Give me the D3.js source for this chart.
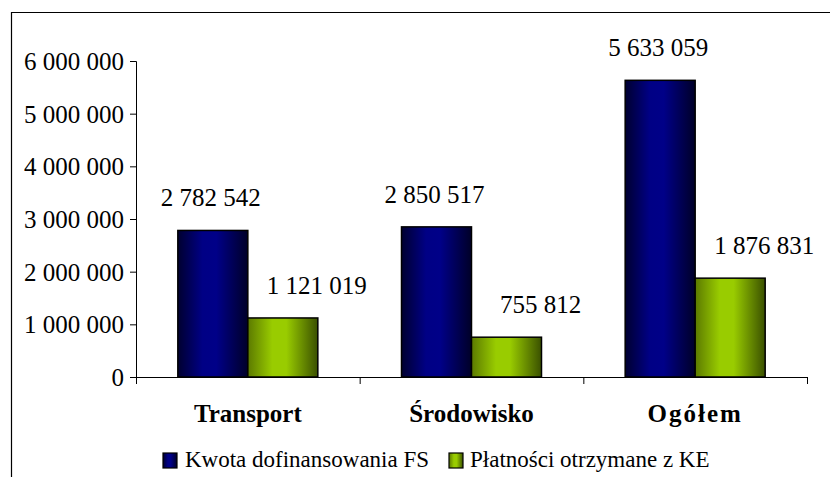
<!DOCTYPE html>
<html>
<head>
<meta charset="utf-8">
<script src="https://cdn.jsdelivr.net/npm/d3@7"></script>
<style>
  html, body { margin: 0; padding: 0; background: #fff; font-family: 'Times New Roman'; }
  svg { display: block; font-family: 'Times New Roman'; }
</style>
</head>
<body>
<svg id="chart" width="830" height="477" font-family="Times New Roman"></svg>
<script>
const categories = ["Transport", "Środowisko", "Ogółem"];
const seriesNames = ["Kwota dofinansowania FS", "Płatności otrzymane z KE"];
const kwotaFS = [2782542, 2850517, 5633059];
const platnosciKE = [1121019, 755812, 1876831];
const yTicks = [0, 1000000, 2000000, 3000000, 4000000, 5000000, 6000000];

const FONT = "'Times New Roman'";
const svg = d3.select("#chart");
const W = 830, H = 477;
const plotBottom = 377;

svg.append("path")
  .attr("d", `M11.5,${H} L11.5,12.5 L${W},12.5`)
  .attr("fill", "none").attr("stroke", "#000").attr("stroke-width", 1.2);

const defs = svg.append("defs");
function grad(id, stops) {
  const g = defs.append("linearGradient").attr("id", id)
    .attr("x1", "0%").attr("x2", "100%").attr("y1", "0%").attr("y2", "0%");
  stops.forEach(s => g.append("stop").attr("offset", s[0]).attr("stop-color", s[1]));
}
grad("gBlue", [["0%", "#000030"], ["35%", "#000085"], ["55%", "#000088"], ["100%", "#000028"]]);
grad("gGreen", [["0%", "#5c7a00"], ["35%", "#99cc00"], ["55%", "#99cc00"], ["100%", "#3a5000"]]);
const fills = ["url(#gBlue)", "url(#gGreen)"];

const x = d3.scaleBand().domain(categories).range([136, 807]).paddingInner(0).paddingOuter(0);
const y = d3.scaleLinear().domain([0, 6000000]).range([plotBottom, 61]);
const fmt = v => d3.format(",")(v).replace(/,/g, " ");

const yAxis = d3.axisLeft(y).tickValues(yTicks).tickFormat(fmt).tickSizeOuter(0).tickSize(6).tickPadding(6);
const gy = svg.append("g").attr("transform", "translate(136,0)").call(yAxis)
  .attr("font-family", null).attr("font-size", null);
gy.select(".domain").attr("stroke", "#000");
gy.selectAll(".tick line").attr("stroke", "#000");
gy.selectAll(".tick text").style("font-family", FONT).style("font-size", "25px").attr("fill", "#000").attr("dy", "0.34em");

const xAxis = d3.axisBottom(x).tickSize(0).tickFormat("");
const gx = svg.append("g").attr("transform", `translate(0,${plotBottom})`).call(xAxis);
gx.select(".domain").attr("stroke", "#000");
gx.selectAll(".tick").remove();
const bounds = categories.map(c => x(c)).concat([x.range()[1]]);
svg.append("g").selectAll("line").data(bounds).join("line")
  .attr("x1", d => d + 0.5).attr("x2", d => d + 0.5)
  .attr("y1", plotBottom).attr("y2", plotBottom + 7)
  .attr("stroke", "#000");

categories.forEach(c => {
  svg.append("text")
    .attr("x", x(c) + x.bandwidth() / 2).attr("y", 422)
    .attr("text-anchor", "middle")
    .style("font-family", FONT).style("font-size", "25px").style("font-weight", "bold")
    .style("letter-spacing", c === "Ogółem" ? "2px" : "0px")
    .text(c);
});

const barW = 70;
const series = [kwotaFS, platnosciKE];
const xs = d3.scaleBand().domain([0, 1]).range([0, barW * 2]);
const labelOffsets = [-2, 34];
series.forEach((vals, si) => {
  categories.forEach((c, i) => {
    const bx = x(c) + x.bandwidth() / 2 - barW + xs(si);
    svg.append("rect")
      .attr("x", bx).attr("y", y(vals[i]))
      .attr("width", barW).attr("height", plotBottom - y(vals[i]))
      .attr("fill", fills[si])
      .attr("stroke", "#000").attr("stroke-width", 1.5);
    svg.append("text")
      .attr("x", bx + barW / 2 + labelOffsets[si]).attr("y", y(vals[i]) - 24)
      .attr("text-anchor", "middle")
      .style("font-family", FONT).style("font-size", "25px")
      .text(fmt(vals[i]));
  });
});

const legItems = [{ x: 163, tx: 185 }, { x: 449, tx: 470 }];
seriesNames.forEach((name, i) => {
  svg.append("rect")
    .attr("x", legItems[i].x).attr("y", 453).attr("width", 14).attr("height", 15)
    .attr("fill", fills[i]).attr("stroke", "#000").attr("stroke-width", 1.2);
  svg.append("text")
    .attr("x", legItems[i].tx).attr("y", 467)
    .style("font-family", FONT).style("font-size", "23px")
    .text(name);
});
</script>
</body>
</html>
